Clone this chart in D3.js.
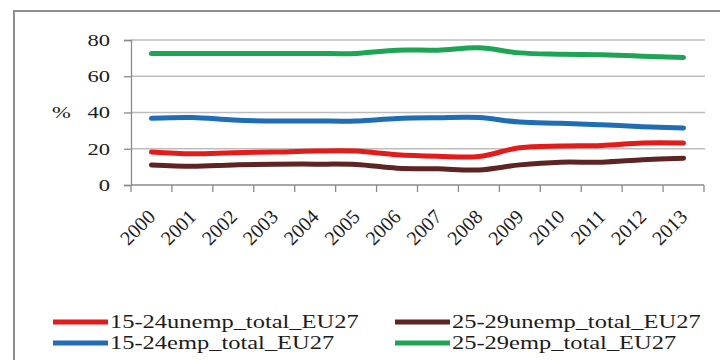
<!DOCTYPE html>
<html>
<head>
<meta charset="utf-8">
<script src="https://cdn.jsdelivr.net/npm/d3@7"></script>
<style>
  html, body { margin: 0; padding: 0; background: #fff; }
  svg { display: block; }
</style>
</head>
<body>
<svg id="chart" width="720" height="360" font-family="Liberation Serif"></svg>
<script>
// Youth labour market indicators, EU27, 2000–2013 (%)
const years = ["2000","2001","2002","2003","2004","2005","2006","2007","2008","2009","2010","2011","2012","2013"];
const unemp1524 = [18.2, 17.2, 17.8, 18.2, 18.7, 18.7, 16.7, 15.9, 15.7, 20.6, 21.5, 21.8, 23.2, 23.2];
const unemp2529 = [11.1, 10.4, 11.1, 11.5, 11.5, 11.3, 9.3, 8.9, 8.3, 11.1, 12.6, 12.6, 13.9, 14.8];
const emp1524   = [36.8, 37.2, 35.9, 35.3, 35.3, 35.3, 36.7, 37.1, 37.2, 34.7, 34.1, 33.2, 32.2, 31.5];
const emp2529   = [72.6, 72.6, 72.6, 72.6, 72.6, 72.6, 74.4, 74.4, 75.7, 72.9, 72.2, 71.8, 71.1, 70.4];
const yTicks = [0, 20, 40, 60, 80];
const seriesNames = ["15-24unemp_total_EU27", "25-29unemp_total_EU27", "15-24emp_total_EU27", "25-29emp_total_EU27"];
const seriesColors = ["#e41b1b", "#5e2424", "#1f6db4", "#1ea455"];

const series = [
  { name: seriesNames[0], values: unemp1524, color: seriesColors[0] },
  { name: seriesNames[1], values: unemp2529, color: seriesColors[1] },
  { name: seriesNames[2], values: emp1524,   color: seriesColors[2] },
  { name: seriesNames[3], values: emp2529,   color: seriesColors[3] }
];

const svg = d3.select("#chart");
const stretch = 1.33;   // text is drawn horizontally widened
const textColor = "#1c1c1c";

// outer chart frame
svg.append("rect")
  .attr("x", 14).attr("y", 11)
  .attr("width", 800).attr("height", 400)
  .attr("fill", "#fff")
  .attr("stroke", "#8e8e8e").attr("stroke-width", 2);

const plot = { left: 131, right: 704, top: 40, bottom: 185 };

const x = d3.scaleBand().domain(years).range([plot.left, plot.right]).paddingInner(0).paddingOuter(0);
const y = d3.scaleLinear().domain([0, 80]).range([plot.bottom, plot.top]);
const cx = d => x(d) + x.bandwidth() / 2;

// horizontal gridlines
svg.append("g").selectAll("line")
  .data(yTicks.filter(t => t > 0))
  .join("line")
  .attr("x1", plot.left).attr("x2", plot.right + 1)
  .attr("y1", d => y(d)).attr("y2", d => y(d))
  .attr("stroke", "#bdbdbd").attr("stroke-width", 1.5);

// y axis
const yAxis = svg.append("g")
  .attr("transform", `translate(${plot.left},0)`)
  .call(d3.axisLeft(y).tickValues(yTicks).tickSize(7).tickFormat(""));
yAxis.selectAll("path, line").attr("stroke", "#8a8a8a").attr("stroke-width", 1.3);

svg.append("g").selectAll("text")
  .data(yTicks)
  .join("text")
  .attr("transform", d => `translate(110,${y(d)}) scale(${stretch},1)`)
  .attr("text-anchor", "end")
  .attr("dy", "0.35em")
  .attr("fill", textColor)
  .attr("font-size", 17)
  .text(d => d);

svg.append("text")
  .attr("transform", `translate(52,${y(40)}) scale(${stretch},1)`)
  .attr("dy", "0.35em")
  .attr("fill", textColor)
  .attr("font-size", 17)
  .text("%");

// x axis with ticks on category boundaries
const xAxis = svg.append("g")
  .attr("transform", `translate(0,${plot.bottom})`);
xAxis.append("line")
  .attr("x1", plot.left).attr("x2", plot.right)
  .attr("stroke", "#8a8a8a").attr("stroke-width", 1.3);
xAxis.selectAll("line.tick")
  .data(years.map(d => x(d)).concat([plot.right]))
  .join("line")
  .attr("class", "tick")
  .attr("x1", d => d).attr("x2", d => d)
  .attr("y1", 0).attr("y2", 7)
  .attr("stroke", "#8a8a8a").attr("stroke-width", 1.3);

svg.append("g").selectAll("text")
  .data(years)
  .join("text")
  .attr("transform", d => `translate(${cx(d) + 5},218) rotate(-45)`)
  .attr("text-anchor", "end")
  .attr("fill", textColor)
  .attr("font-size", 20)
  .text(d => d);

// series lines (smoothed)
const line = d3.line()
  .x((v, i) => cx(years[i]))
  .y(v => y(v))
  .curve(d3.curveCatmullRom.alpha(0.5));

svg.append("g").selectAll("path")
  .data(series)
  .join("path")
  .attr("d", s => line(s.values))
  .attr("fill", "none")
  .attr("stroke", s => s.color)
  .attr("stroke-width", 5)
  .attr("stroke-linecap", "round")
  .attr("stroke-linejoin", "round");

// legend, two rows by two columns
const legendPos = [
  { x: 53, y: 322 }, { x: 395, y: 322 },
  { x: 53, y: 343 }, { x: 395, y: 343 }
];
const legend = svg.append("g").selectAll("g")
  .data(series)
  .join("g")
  .attr("transform", (s, i) => `translate(${legendPos[i].x},${legendPos[i].y})`);
legend.append("line")
  .attr("x1", 0).attr("x2", 55)
  .attr("y1", 0).attr("y2", 0)
  .attr("stroke", s => s.color)
  .attr("stroke-width", 5);
legend.append("text")
  .attr("transform", `translate(57,0) scale(1.36,1)`)
  .attr("dy", "0.35em")
  .attr("fill", textColor)
  .attr("font-size", 18)
  .text(s => s.name);
</script>
</body>
</html>
